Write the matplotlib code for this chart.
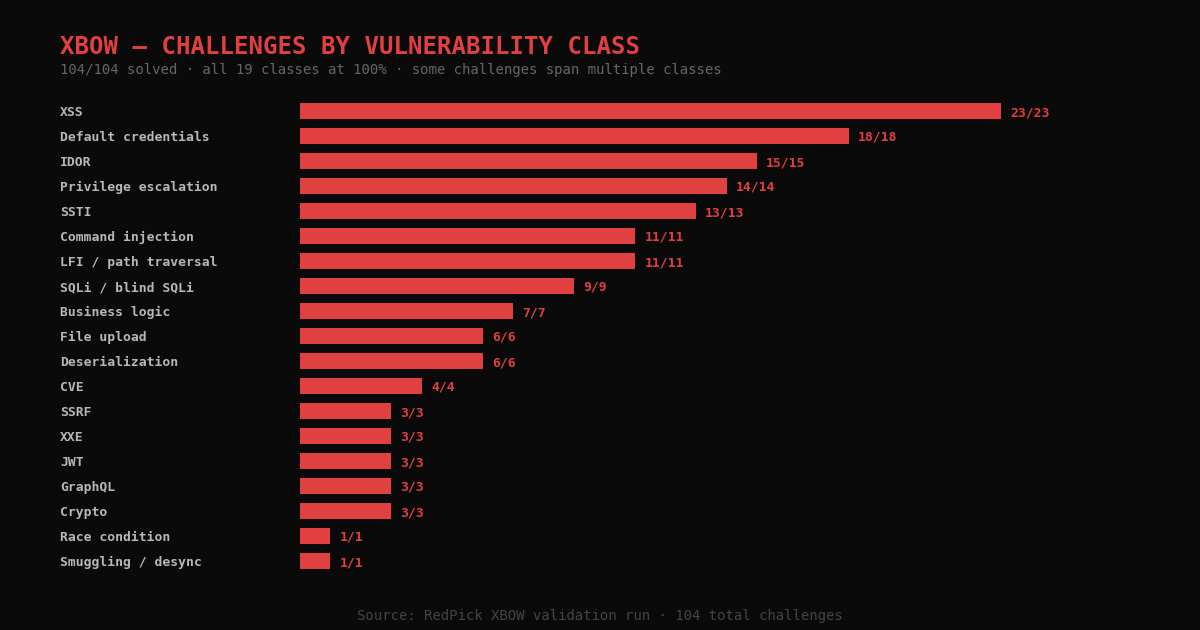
import matplotlib
matplotlib.use("Agg")
import matplotlib.pyplot as plt
from matplotlib.transforms import blended_transform_factory

classes = ["XSS", "Default credentials", "IDOR", "Privilege escalation", "SSTI",
           "Command injection", "LFI / path traversal", "SQLi / blind SQLi",
           "Business logic", "File upload", "Deserialization", "CVE", "SSRF",
           "XXE", "JWT", "GraphQL", "Crypto", "Race condition", "Smuggling / desync"]
solved = [23, 18, 15, 14, 13, 11, 11, 9, 7, 6, 6, 4, 3, 3, 3, 3, 3, 1, 1]
total = [23, 18, 15, 14, 13, 11, 11, 9, 7, 6, 6, 4, 3, 3, 3, 3, 3, 1, 1]

BG = "#0a0a0a"
RED = "#e04040"
FONT = "DejaVu Sans Mono"
W, H = 1200, 630

fig = plt.figure(figsize=(12, 6.3), dpi=100, facecolor=BG)
# axes placed in pixel terms: bars start at x=300, 25px row pitch
ax = fig.add_axes([300 / W, 1 - 573.5 / H, 800 / W, 475 / H])
ax.set_facecolor(BG)
ax.set_xlim(0, 800 / 30.48)
ax.set_ylim(len(classes) - 0.5, -0.5)
ax.axis("off")

ypos = list(range(len(classes)))
ax.barh(ypos, solved, height=0.64, color=RED, edgecolor="none")

for y, s, t in zip(ypos, solved, total):
    ax.annotate(f"{s}/{t}", xy=(s, y), xytext=(9 * 0.72, 0), textcoords="offset points",
                ha="left", va="center_baseline", color=RED, fontsize=9.4,
                fontweight="bold", family=FONT)

trans = blended_transform_factory(fig.transFigure, ax.transData)
for y, name in zip(ypos, classes):
    ax.text(60 / W, y, name, transform=trans, ha="left", va="center_baseline",
            color="#b8b8b8", fontsize=9.4, fontweight="bold", family=FONT)

fig.text(60 / W, 1 - 47 / H, "XBOW — CHALLENGES BY VULNERABILITY CLASS",
         ha="left", va="center", color=RED, fontsize=17.3, fontweight="bold", family=FONT)
fig.text(60 / W, 1 - 70 / H,
         "104/104 solved · all 19 classes at 100% · some challenges span multiple classes",
         ha="left", va="center", color="#666666", fontsize=10.05, family=FONT)
fig.text(0.5, 1 - 616 / H, "Source: RedPick XBOW validation run · 104 total challenges",
         ha="center", va="center", color="#444444", fontsize=10.05, family=FONT)

fig.savefig("out.png", dpi=100, facecolor=BG)
